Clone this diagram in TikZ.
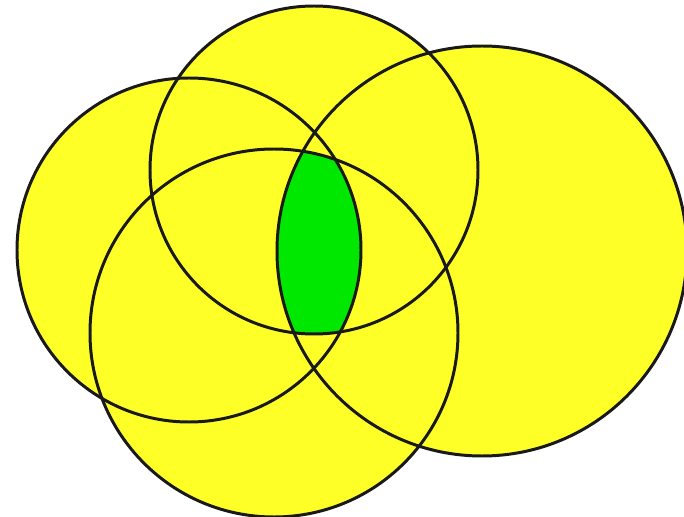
\documentclass[tikz,border=0pt]{standalone}
\usepackage{xcolor}
\usepackage{tikz}
\definecolor{venyellow}{RGB}{255,255,40}
\definecolor{vengreen}{RGB}{0,232,0}

\begin{document}
\begin{tikzpicture}[
    x=0.02cm, y=-0.02cm,
    disc/.style={fill=venyellow},
    core/.style={fill=vengreen},
    ring/.style={draw=black!90, line width=1.7pt}
]
\useasboundingbox (0,0) rectangle (684,517);

% circle centres
\coordinate (cl) at (189,250);
\coordinate (ct) at (314,170);
\coordinate (cr) at (482,251);
\coordinate (cb) at (274,333);

% yellow discs
\fill[disc] (cl) circle[radius=172];
\fill[disc] (ct) circle[radius=164];
\fill[disc] (cr) circle[radius=205];
\fill[disc] (cb) circle[radius=184];

% common part of all four
\begin{scope}
    \clip (cl) circle[radius=172];
    \clip (ct) circle[radius=164];
    \clip (cr) circle[radius=205];
    \fill[core] (cb) circle[radius=184];
\end{scope}

% outlines
\draw[ring] (cl) circle[radius=172];
\draw[ring] (ct) circle[radius=164];
\draw[ring] (cr) circle[radius=205];
\draw[ring] (cb) circle[radius=184];

\end{tikzpicture}
\end{document}
